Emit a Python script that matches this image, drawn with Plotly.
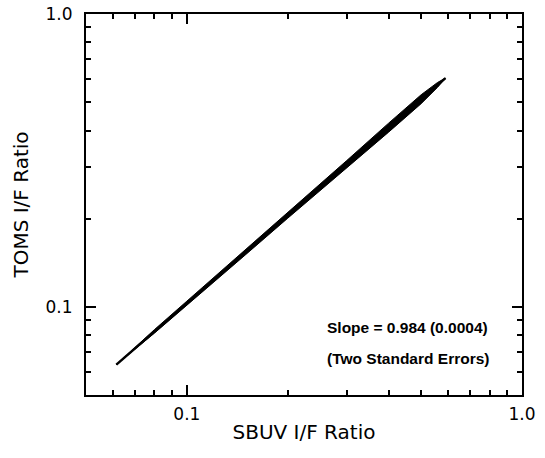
import plotly.graph_objects as go

# Data (log-log scatter band, SBUV vs TOMS I/F ratio)
sbuv = [0.0616, 0.08, 0.10, 0.15, 0.20, 0.30, 0.40, 0.50, 0.56, 0.591]
toms_center = [0.0635, 0.0824, 0.103, 0.154, 0.2056, 0.3076, 0.4095, 0.512, 0.573, 0.604]
toms_upper = [0.0635, 0.0836, 0.1046, 0.157, 0.2105, 0.316, 0.424, 0.530, 0.584, 0.604]
toms_lower = [0.0635, 0.0813, 0.1014, 0.151, 0.2008, 0.299, 0.395, 0.494, 0.562, 0.604]

major_ticks = [0.1, 1.0]
major_labels = ["0.1", "1.0"]
minor_ticks = [0.06, 0.07, 0.08, 0.09, 0.2, 0.3, 0.4, 0.5, 0.6, 0.7, 0.8, 0.9]

slope_text = "Slope = 0.984 (0.0004)"
err_text = "(Two Standard Errors)"

fig = go.Figure()
fig.add_trace(go.Scatter(
    x=sbuv + sbuv[::-1], y=toms_upper + toms_lower[::-1],
    mode="lines", fill="toself", fillcolor="black",
    line=dict(color="black", width=1), hoverinfo="skip", showlegend=False))
fig.add_trace(go.Scatter(
    x=sbuv, y=toms_center, mode="lines",
    line=dict(color="black", width=2.5), showlegend=False))

font = "DejaVu Sans, sans-serif"
bfont = "Liberation Sans, Arial, sans-serif"
axis_common = dict(
    type="log", range=[-1.301, 0.0], automargin=False,
    tickmode="array", tickvals=major_ticks, ticktext=major_labels,
    ticks="inside", ticklen=10, tickwidth=2, tickcolor="black",
    minor=dict(tickmode="array", tickvals=minor_ticks, ticks="inside",
               ticklen=5, tickwidth=2, tickcolor="black", showgrid=False),
    showline=True, linecolor="black", linewidth=2, mirror="ticks",
    showgrid=False, zeroline=False,
    tickfont=dict(family=font, size=17, color="#000000"),
)

fig.update_layout(
    width=545, height=458,
    margin=dict(l=86, r=23, t=14, b=63),
    paper_bgcolor="white", plot_bgcolor="white",
    xaxis=dict(**axis_common, ticklabelstandoff=3,
               title=dict(text="SBUV I/F Ratio", standoff=2,
                          font=dict(family=font, size=20, color="#000000"))),
    yaxis=dict(**axis_common, ticklabelstandoff=8,
               title=dict(text="TOMS I/F Ratio", standoff=12,
                          font=dict(family=font, size=20, color="#000000"))),
    annotations=[
        dict(x=0.738, y=0.176, xref="paper", yref="paper", xanchor="center", yanchor="middle",
             text="<b>" + slope_text + "</b>",
             showarrow=False, font=dict(family=bfont, size=15.5, color="#000000")),
        dict(x=0.738, y=0.095, xref="paper", yref="paper", xanchor="center", yanchor="middle",
             text="<b>" + err_text + "</b>",
             showarrow=False, font=dict(family=bfont, size=15.5, color="#000000")),
    ],
)

fig.write_html("out.html", config={"displayModeBar": False},
               post_script="document.body.style.margin='0';")
